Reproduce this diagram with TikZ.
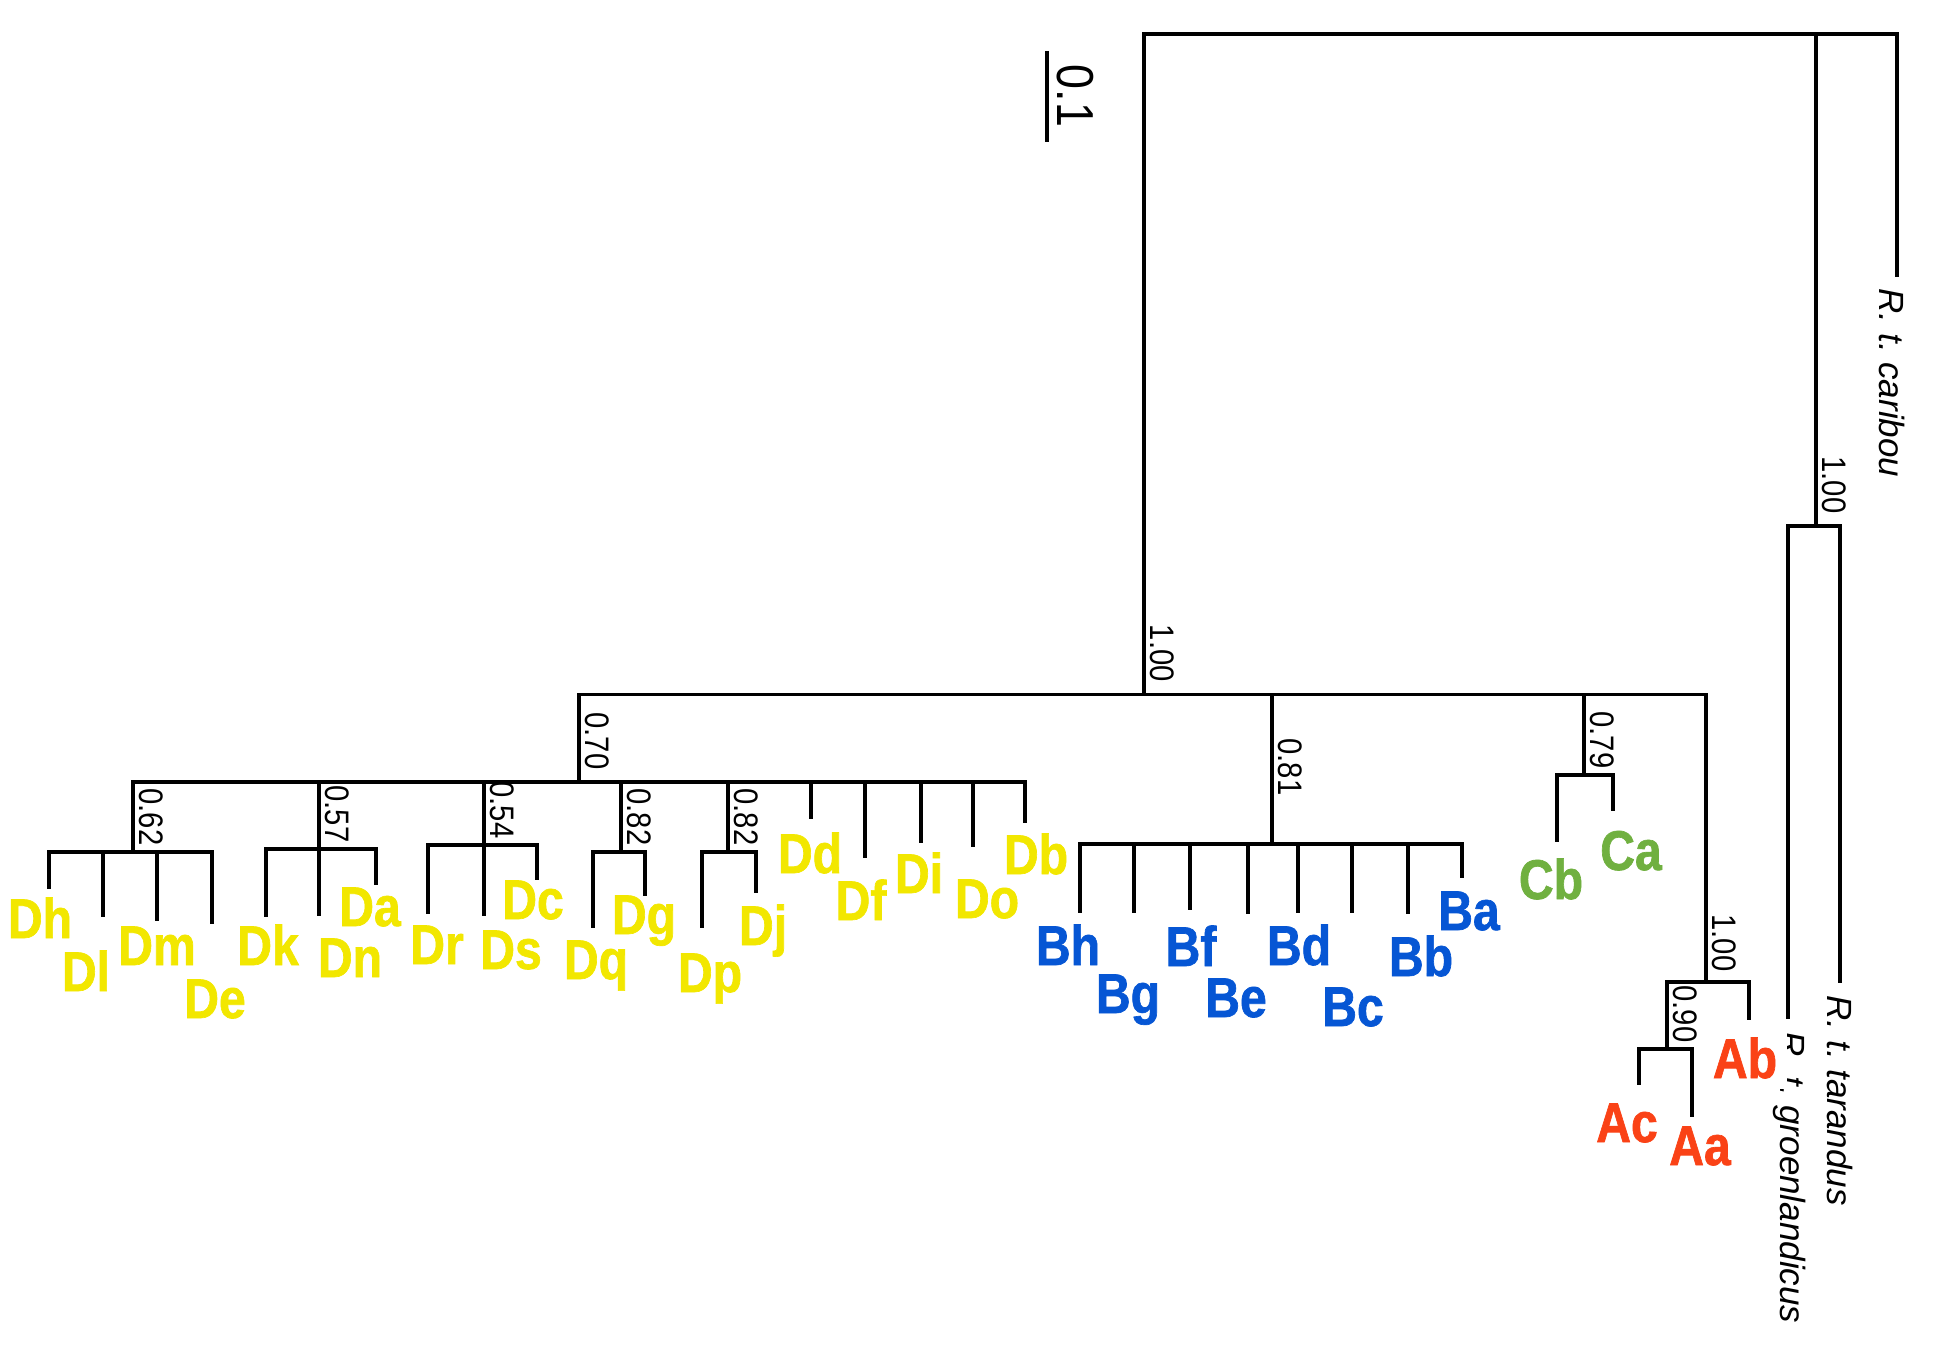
\documentclass[tikz,border=0pt]{standalone}
\usepackage{fontspec}
\setmainfont{Liberation Sans}
\newfontfamily\taxfont[FakeStretch=0.86,FakeBold=1.2]{Liberation Sans Bold}
\newfontfamily\supfont[FakeStretch=0.86]{Liberation Sans}

\definecolor{cladeA}{RGB}{250,66,22}
\definecolor{cladeB}{RGB}{6,86,212}
\definecolor{cladeC}{RGB}{112,176,64}
\definecolor{cladeD}{RGB}{242,231,0}

\begin{document}
\begin{tikzpicture}[x=0.5pt, y=-0.5pt, line width=1.6pt,
        taxon/.style={font=\taxfont\fontsize{28}{30}\selectfont, anchor=base, inner sep=1pt},
        atip/.style={taxon, text=cladeA},
        btip/.style={taxon, text=cladeB},
        ctip/.style={taxon, text=cladeC},
        dtip/.style={taxon, text=cladeD},
        support/.style={font=\supfont\fontsize{17}{18}\selectfont, rotate=-90, anchor=south east, inner sep=2.5pt},
        subsp/.style={font=\itshape\fontsize{17.5}{19}\selectfont, rotate=-90, anchor=west, inner sep=2pt}]
        \useasboundingbox (0,0) rectangle (1933,1348);

        % inner nodes of the tree
        \coordinate (root) at (1816,34);
        \coordinate (nIn) at (1144,694.5);
        \coordinate (nOut) at (1816,526);
        \coordinate (nD) at (579,782);
        \coordinate (nB) at (1272,844);
        \coordinate (nC) at (1584,775);
        \coordinate (nA) at (1706,982);
        \coordinate (n62) at (133,852);
        \coordinate (n57) at (319,849);
        \coordinate (n54) at (484,845);
        \coordinate (n82a) at (621,852);
        \coordinate (n82b) at (728,852);
        \coordinate (n90) at (1667,1049);

        % tips
        \coordinate (tCar) at (1897,277);
        \coordinate (tTar) at (1840,983);
        \coordinate (tGro) at (1788,1019);
        \coordinate (tDh) at (49,889);
        \coordinate (tDl) at (103,917);
        \coordinate (tDm) at (157,921);
        \coordinate (tDe) at (212,924);
        \coordinate (tDk) at (266,917);
        \coordinate (tDn) at (319,916);
        \coordinate (tDa) at (376,885);
        \coordinate (tDr) at (428,914);
        \coordinate (tDs) at (484,916);
        \coordinate (tDc) at (537,880);
        \coordinate (tDq) at (593,928);
        \coordinate (tDg) at (645,896);
        \coordinate (tDp) at (702,928);
        \coordinate (tDj) at (756,893);
        \coordinate (tDd) at (811,819);
        \coordinate (tDf) at (865,858);
        \coordinate (tDi) at (921,843);
        \coordinate (tDo) at (973,847);
        \coordinate (tDb) at (1025,823);
        \coordinate (tBh) at (1080,913);
        \coordinate (tBg) at (1134,913);
        \coordinate (tBf) at (1190,910);
        \coordinate (tBe) at (1248,914);
        \coordinate (tBd) at (1298,913);
        \coordinate (tBc) at (1352,913);
        \coordinate (tBb) at (1408,914);
        \coordinate (tBa) at (1462,878);
        \coordinate (tCb) at (1557,842);
        \coordinate (tCa) at (1613,811);
        \coordinate (tAb) at (1749,1020);
        \coordinate (tAc) at (1639,1085);
        \coordinate (tAa) at (1692,1117);

        % branches
        \draw (root) -| (nIn) (root) -| (nOut) (root) -| (tCar);
        \draw (nOut) -| (tGro) (nOut) -| (tTar);
        \draw (nIn) -| (nD) (nIn) -| (nB) (nIn) -| (nC) (nIn) -| (nA);
        \draw (nD) -| (n62) (nD) -| (n57) (nD) -| (n54) (nD) -| (n82a) (nD) -| (n82b)
              (nD) -| (tDd) (nD) -| (tDf) (nD) -| (tDi) (nD) -| (tDo) (nD) -| (tDb);
        \draw (n62) -| (tDh) (n62) -| (tDl) (n62) -| (tDm) (n62) -| (tDe);
        \draw (n57) -| (tDk) (n57) -| (tDn) (n57) -| (tDa);
        \draw (n54) -| (tDr) (n54) -| (tDs) (n54) -| (tDc);
        \draw (n82a) -| (tDq) (n82a) -| (tDg);
        \draw (n82b) -| (tDp) (n82b) -| (tDj);
        \draw (nB) -| (tBh) (nB) -| (tBg) (nB) -| (tBf) (nB) -| (tBe)
              (nB) -| (tBd) (nB) -| (tBc) (nB) -| (tBb) (nB) -| (tBa);
        \draw (nC) -| (tCb) (nC) -| (tCa);
        \draw (nA) -| (n90) (nA) -| (tAb);
        \draw (n90) -| (tAc) (n90) -| (tAa);

        % scale bar
        \coordinate (sb1) at (1047,51);
        \coordinate (sb2) at (1047,142);
        \draw (sb1) -- (sb2);
        \node[font=\supfont\fontsize{26}{28}\selectfont, rotate=-90] (scale) at (1075,96) {0.1};

        % support values
        \node[support] at ([yshift=3pt]nIn) (sIn) {1.00};
        \node[support] at ([yshift=3pt]nOut) (sOut) {1.00};
        \node[support] at ([yshift=3pt]nD) (s70) {0.70};
        \node[support] at ([yshift=21pt]nB) (s81) {0.81};
        \node[support] at (nC) (s79) {0.79};
        \node[support] at ([yshift=2pt]nA) (sA) {1.00};
        \node[support] at (n90) (s90) {0.90};
        \node[support] at (n62) (s62) {0.62};
        \node[support] at (n57) (s57) {0.57};
        \node[support] at (n54) (s54) {0.54};
        \node[support] at (n82a) (s82a) {0.82};
        \node[support] at (n82b) (s82b) {0.82};

        % outgroup names
        \node[subsp] (car) at (1892,283) {R.\ t.\ caribou};
        \node[subsp] (tar) at (1840,990) {R.\ t.\ tarandus};
        \node[subsp] (gro) at (1790,1026) {R.\ t.\ groenlandicus};

        % haplotypes
        \node[dtip] (Dh) at (40,938) {Dh};
        \node[dtip] (Dl) at (86,991) {Dl};
        \node[dtip] (Dm) at (157,965) {Dm};
        \node[dtip] (De) at (215,1018) {De};
        \node[dtip] (Dk) at (268,965) {Dk};
        \node[dtip] (Da) at (370,926) {Da};
        \node[dtip] (Dn) at (350,977) {Dn};
        \node[dtip] (Dr) at (437,964) {Dr};
        \node[dtip] (Ds) at (511,969) {Ds};
        \node[dtip] (Dc) at (533,919) {Dc};
        \node[dtip] (Dg) at (644,934) {Dg};
        \node[dtip] (Dq) at (596,979) {Dq};
        \node[dtip] (Dp) at (710,992) {Dp};
        \node[dtip] (Dj) at (763,945) {Dj};
        \node[dtip] (Dd) at (810,873) {Dd};
        \node[dtip] (Df) at (861,920) {Df};
        \node[dtip] (Di) at (919,893) {Di};
        \node[dtip] (Do) at (987,918) {Do};
        \node[dtip] (Db) at (1036,874) {Db};
        \node[btip] (Bh) at (1068,965) {Bh};
        \node[btip] (Bg) at (1128,1013) {Bg};
        \node[btip] (Bf) at (1191,966) {Bf};
        \node[btip] (Be) at (1236,1017) {Be};
        \node[btip] (Bd) at (1299,965) {Bd};
        \node[btip] (Bc) at (1353,1026) {Bc};
        \node[btip] (Bb) at (1421,976) {Bb};
        \node[btip] (Ba) at (1469,930) {Ba};
        \node[ctip] (Cb) at (1551,899) {Cb};
        \node[ctip] (Ca) at (1631,870) {Ca};
        \node[atip, fill=white, inner sep=5pt] (Ab) at (1745,1078) {Ab};
        \node[atip] (Ac) at (1627,1142) {Ac};
        \node[atip] (Aa) at (1700,1165) {Aa};
\end{tikzpicture}
\end{document}
